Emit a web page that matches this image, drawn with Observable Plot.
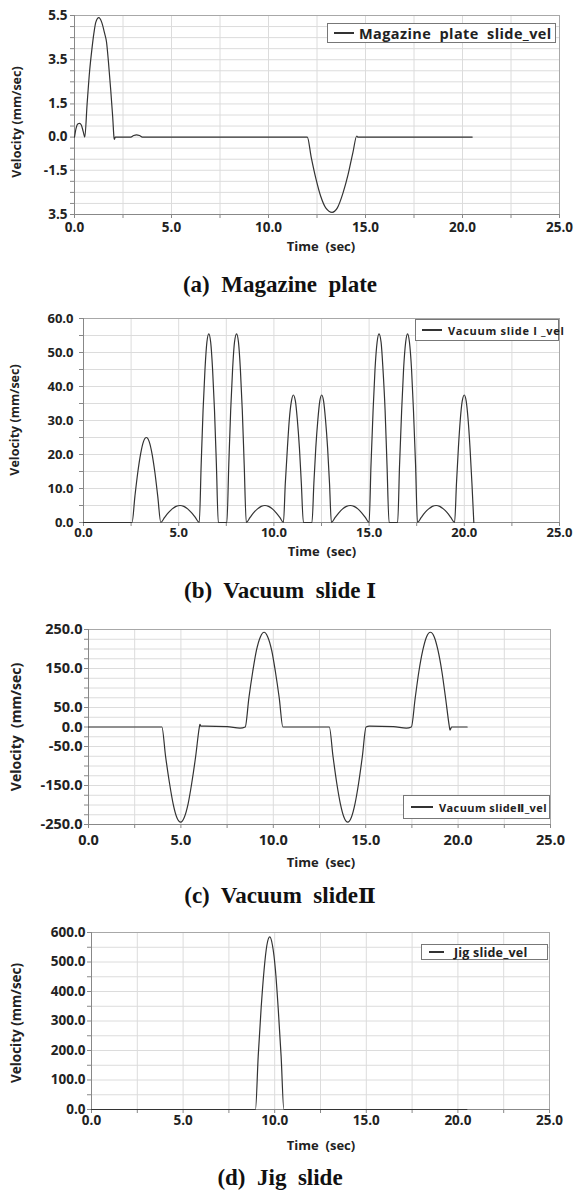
<!DOCTYPE html>
<html>
<head>
<meta charset="utf-8">
<script src="https://cdn.jsdelivr.net/npm/d3@7"></script>
<script src="https://cdn.jsdelivr.net/npm/@observablehq/plot@0.6"></script>
<style>
  html, body { margin: 0; padding: 0; background: #fff; }
  #root { position: relative; width: 579px; height: 1192px; overflow: hidden; background: #fff; }
  .svgwrap { position: absolute; left: 0; }
  .title { position: absolute; left: 0; width: 560px; text-align: center; font-family: "Liberation Serif", "Times New Roman", serif; font-weight: bold; font-size: 23px; line-height: 23px; white-space: pre; color: #111; }
  .title .rn { font-family: "DejaVu Serif", serif; font-weight: bold; font-size: 21px; }
  .xlab { position: absolute; font-family: "Open Sans", "DejaVu Sans", sans-serif; font-weight: 700; font-size: 13px; line-height: 13px; color: #222; transform: translate(-50%, -50%); white-space: pre; }
  .ylab { position: absolute; font-family: "Open Sans", "DejaVu Sans", sans-serif; font-weight: 700; color: #222; transform: translate(-50%, -50%) rotate(-90deg); white-space: pre; }
  .legend { position: absolute; background: #fff; border: 1px solid #777; box-sizing: border-box; font-family: "Open Sans", "DejaVu Sans", sans-serif; font-weight: 700; color: #222; display: flex; align-items: center; white-space: pre; }
  .legend .sw { display: inline-block; height: 1.4px; background: #333; flex: none; }
</style>
</head>
<body>
<div id="root"></div>
<script>
// ---------- data ----------
const xMajor = [0, 5, 10, 15, 20, 25];
const xMinor = [0, 2.5, 5, 7.5, 10, 12.5, 15, 17.5, 20, 22.5, 25];

// (a) Magazine plate
const magTime = [0, 0.08, 0.18, 0.26, 0.35, 0.45, 0.53, 0.65, 0.78, 0.9, 1.0, 1.1, 1.25, 1.4, 1.55, 1.65, 1.75, 1.87, 1.97, 2.04, 2.06, 2.1, 2.9, 3.05, 3.2, 3.35, 3.5, 12.0, 12.2, 12.45, 12.7, 12.95, 13.28, 13.55, 13.85, 14.1, 14.35, 14.55, 14.6, 20.5];
const magVel  = [0, 0.4, 0.6, 0.62, 0.55, 0.25, 0.0, 1.5, 3.0, 4.0, 4.7, 5.2, 5.4, 5.2, 4.7, 4.3, 3.4, 2.1, 0.9, -0.05, -0.1, 0, 0, 0.07, 0.1, 0.07, 0, 0, -0.9, -1.9, -2.7, -3.2, -3.4, -3.2, -2.5, -1.7, -0.7, 0.05, 0, 0];
const magTicks = [5.5, 3.5, 1.5, 0, -1.5, -3.5];
const magTickLabels = ["5.5", "3.5", "1.5", "0.0", "-1.5", "3.5"];

// (b) Vacuum slide I
const vs1Time = [0, 2.55, 2.70, 2.85, 3.00, 3.15, 3.30, 3.45, 3.60, 3.75, 3.90, 4.06,
  4.26, 4.46, 4.66, 4.86, 5.07, 5.27, 5.47, 5.67, 5.87, 6.08,
  6.18, 6.28, 6.38, 6.48, 6.58, 6.68, 6.78, 6.88, 6.98, 7.08,
  7.53, 7.63, 7.73, 7.83, 7.93, 8.04, 8.14, 8.24, 8.34, 8.44, 8.55,
  8.75, 8.94, 9.14, 9.33, 9.53, 9.72, 9.92, 10.11, 10.31, 10.5,
  10.6, 10.71, 10.81, 10.92, 11.02, 11.13, 11.23, 11.34, 11.44, 11.55,
  12.0, 12.1, 12.2, 12.31, 12.41, 12.51, 12.61, 12.71, 12.82, 12.92, 13.02,
  13.22, 13.42, 13.61, 13.81, 14.01, 14.21, 14.41, 14.6, 14.8, 15.0,
  15.1, 15.21, 15.31, 15.42, 15.52, 15.63, 15.73, 15.84, 15.94, 16.05,
  16.5, 16.6, 16.71, 16.81, 16.92, 17.02, 17.12, 17.23, 17.33, 17.44, 17.54,
  17.74, 17.93, 18.13, 18.32, 18.52, 18.71, 18.9, 19.1, 19.29, 19.49,
  19.59, 19.69, 19.79, 19.89, 20.0, 20.1, 20.2, 20.3, 20.4, 20.5];
const vs1Vel = [0, 0, 7.7, 14.7, 20.2, 23.8, 25, 23.8, 20.2, 14.7, 7.7, 0,
  1.5, 2.9, 4.0, 4.75, 5, 4.75, 4.0, 2.9, 1.5, 0,
  17, 33, 45, 53, 55.5, 53, 45, 33, 17, 0,
  0, 17, 33, 45, 53, 55.5, 53, 45, 33, 17, 0,
  1.5, 2.9, 4.0, 4.75, 5, 4.75, 4.0, 2.9, 1.5, 0,
  11.6, 22, 30.3, 35.7, 37.5, 35.7, 30.3, 22, 11.6, 0,
  0, 11.6, 22, 30.3, 35.7, 37.5, 35.7, 30.3, 22, 11.6, 0,
  1.5, 2.9, 4.0, 4.75, 5, 4.75, 4.0, 2.9, 1.5, 0,
  17, 33, 45, 53, 55.5, 53, 45, 33, 17, 0,
  0, 17, 33, 45, 53, 55.5, 53, 45, 33, 17, 0,
  1.5, 2.9, 4.0, 4.75, 5, 4.75, 4.0, 2.9, 1.5, 0,
  11.6, 22, 30.3, 35.7, 37.5, 35.7, 30.3, 22, 11.6, 0];
const vs1Ticks = [0, 10, 20, 30, 40, 50, 60];

// (c) Vacuum slide II
const vs2Time = [0, 3.97, 4.17, 4.38, 4.58, 4.78, 4.99, 5.18, 5.39, 5.59, 5.8, 6.0, 6.03, 6.08, 6.3, 7.5, 8.2, 8.48,
  8.68, 8.89, 9.09, 9.3, 9.5, 9.7, 9.91, 10.11, 10.32, 10.52,
  13.03, 13.23, 13.43, 13.63, 13.83, 14.03, 14.22, 14.42, 14.62, 14.82, 15.02, 15.2, 16.5, 17.2, 17.47,
  17.68, 17.88, 18.09, 18.29, 18.5, 18.71, 18.91, 19.12, 19.32, 19.53, 19.56, 19.65, 20.49];
const vs2Vel = [0, 0, -75, -143, -197, -232, -244, -232, -197, -143, -75, 0, 7, 2, 2, 1, -3, 0,
  75, 143, 197, 231, 243, 231, 197, 143, 75, 0,
  0, -75, -143, -197, -232, -244, -232, -197, -143, -75, 0, 2, 1, -3, 0,
  75, 143, 197, 231, 243, 231, 197, 143, 75, 0, -8, 0, 0];
const vs2Ticks = [250, 150, 50, 0, -50, -150, -250];

// (d) Jig slide
const jigTime = [0, 8.95, 9.1, 9.26, 9.42, 9.57, 9.73, 9.88, 10.04, 10.19, 10.35, 10.5, 20.49];
const jigVel  = [0, 0, 181, 344, 473, 556, 585, 556, 473, 344, 181, 0, 0];
const jigTicks = [0, 100, 200, 300, 400, 500, 600];

// ---------- helpers ----------
const root = document.getElementById("root");
const range = (a, b, s) => d3.range(a, b + s / 2, s);

function addText(cls, text, styles) {
  const el = document.createElement("div");
  el.className = cls;
  el.textContent = text;
  Object.assign(el.style, styles);
  root.appendChild(el);
  return el;
}

function addTitle(text, numeral, baseline) {
  const el = document.createElement("div");
  el.className = "title";
  el.style.top = (baseline - 19.5) + "px";
  el.appendChild(document.createTextNode(text));
  if (numeral) {
    const s = document.createElement("span");
    s.className = "rn";
    s.textContent = numeral;
    el.appendChild(s);
  }
  root.appendChild(el);
}

function legend(text, box, swW, gap, fs, ls) {
  const el = document.createElement("div");
  el.className = "legend";
  Object.assign(el.style, {left: box[0] + "px", top: box[1] + "px", width: (box[2] - box[0]) + "px", height: (box[3] - box[1]) + "px", fontSize: fs + "px", letterSpacing: ls + "px", paddingLeft: box[4] + "px"});
  const sw = document.createElement("span");
  sw.className = "sw";
  sw.style.width = swW + "px";
  sw.style.marginRight = gap + "px";
  el.appendChild(sw);
  el.appendChild(document.createTextNode(text));
  root.appendChild(el);
}

function panel(cfg) {
  const data = cfg.time.map((t, i) => ({t, v: cfg.vel[i]}));
  const fmt = d => {
    const i = cfg.yTicks.indexOf(d);
    return cfg.yLabels ? cfg.yLabels[i] : d.toFixed(1);
  };
  const chart = Plot.plot({
    width: 579,
    height: cfg.height,
    marginTop: cfg.mt, marginBottom: cfg.mb, marginLeft: cfg.ml, marginRight: cfg.mr,
    x: {domain: [0, 25]},
    y: {domain: cfg.yDomain},
    style: {fontFamily: '"Open Sans", "DejaVu Sans", sans-serif', fontWeight: 700, fontSize: cfg.fs + "px", color: "#222", background: "transparent", overflow: "visible"},
    marks: [
      Plot.gridX(xMinor, {stroke: "#dcdcdc", strokeOpacity: 1}),
      Plot.gridY(cfg.yGrid, {stroke: "#dcdcdc", strokeOpacity: 1}),
      Plot.frame({stroke: "#a8a8a8"}),
      Plot.axisX(xMinor, {tickSize: 4, tickFormat: () => "", stroke: "#888", label: null}),
      Plot.axisX(xMajor, {tickSize: 0, tickPadding: cfg.xPad, tickFormat: d => d.toFixed(1), label: null, fontSize: cfg.fs}),
      Plot.axisY(cfg.yGrid, {tickSize: 4, tickFormat: () => "", stroke: "#888", label: null}),
      Plot.axisY(cfg.yTicks, {tickSize: 0, tickPadding: cfg.yPad, tickFormat: fmt, label: null, fontSize: cfg.fs}),
      Plot.ruleX([0], {stroke: "#888"}),
      Plot.ruleY([cfg.yDomain[0]], {stroke: "#888"}),
      Plot.lineY(data, {x: "t", y: "v", curve: "monotone-x", stroke: "#333", strokeWidth: 1.2})
    ]
  });
  const wrap = document.createElement("div");
  wrap.className = "svgwrap";
  wrap.style.top = cfg.top + "px";
  wrap.appendChild(chart);
  root.appendChild(wrap);
}

// ---------- panels ----------
panel({time: magTime, vel: magVel, top: 0, height: 260, mt: 15, mb: 46, ml: 74, mr: 20,
  yDomain: [-3.5, 5.5], yTicks: magTicks, yLabels: magTickLabels, yGrid: range(-3.5, 5.5, 0.5), fs: 13.5, xPad: 8, yPad: 7});
panel({time: vs1Time, vel: vs1Vel, top: 300, height: 250, mt: 18, mb: 28, ml: 83, mr: 20,
  yDomain: [0, 60], yTicks: vs1Ticks, yGrid: range(0, 60, 5), fs: 13, xPad: 5, yPad: 10});
panel({time: vs2Time, vel: vs2Vel, top: 610, height: 240, mt: 19, mb: 26, ml: 88, mr: 29,
  yDomain: [-250, 250], yTicks: vs2Ticks, yGrid: range(-250, 250, 25), fs: 14.5, xPad: 10, yPad: 6});
panel({time: jigTime, vel: jigVel, top: 910, height: 230, mt: 22, mb: 31, ml: 91, mr: 30,
  yDomain: [0, 600], yTicks: jigTicks, yGrid: range(0, 600, 50), fs: 13.5, xPad: 6, yPad: 6});

// axis titles
addText("xlab", "Time  (sec)", {left: "321px", top: "246px"});
addText("xlab", "Time  (sec)", {left: "322px", top: "551px"});
addText("xlab", "Time  (sec)", {left: "321px", top: "862px"});
addText("xlab", "Time  (sec)", {left: "321px", top: "1145px"});
addText("ylab", "Velocity (mm/sec)", {left: "16px", top: "122px", fontSize: "12.5px"});
addText("ylab", "Velocity (mm/sec)", {left: "14px", top: "420px", fontSize: "12.5px"});
addText("ylab", "Velocity  (mm/sec)", {left: "15px", top: "727px", fontSize: "14px"});
addText("ylab", "Velocity (mm/sec)", {left: "16px", top: "1023px", fontSize: "13.5px"});

// legends
legend("Magazine  plate  slide_vel", [327, 23, 556, 43, 6], 20, 5, 14.5, 0.4);
legend("Vacuum slide I _vel", [415, 319, 559, 341, 6], 20, 6, 11, 0.7);
legend("Vacuum slideⅡ_vel", [403, 795, 550, 819, 7], 22, 6, 11, 0.4);
legend("Jig slide_vel", [421, 944, 548, 960, 7], 15, 10, 12.5, 0.2);

// panel titles
addTitle("(a)  Magazine  plate", "", 292);
addTitle("(b)  Vacuum  slide ", "Ⅰ", 598);
addTitle("(c)  Vacuum  slide", "Ⅱ", 903);
addTitle("(d)  Jig  slide", "", 1185);
</script>
</body>
</html>
